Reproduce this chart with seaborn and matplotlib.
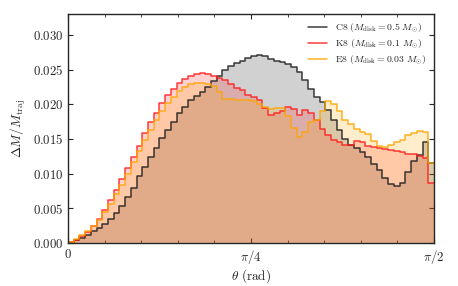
import numpy as np
import pandas as pd
import matplotlib
matplotlib.use("Agg")
import matplotlib.pyplot as plt
from matplotlib.lines import Line2D
from matplotlib.ticker import MultipleLocator, FixedLocator
import seaborn as sns

sns.set_style("ticks")
plt.rcParams["mathtext.fontset"] = "cm"
plt.rcParams["font.family"] = ["DejaVu Serif"]

n_bins = 64
theta_max = np.pi / 2

c8 = [0.0002, 0.0004, 0.0008, 0.0012, 0.0017, 0.0022, 0.0028, 0.0035, 0.0044, 0.0054,
      0.0066, 0.0080, 0.0096, 0.0110, 0.0124, 0.0137, 0.0151, 0.0163, 0.0175, 0.0187,
      0.0196, 0.0206, 0.0212, 0.0218, 0.0225, 0.0233, 0.0240, 0.0249, 0.0255, 0.0259,
      0.0262, 0.0266, 0.0270, 0.0271, 0.0269, 0.0265, 0.0263, 0.0261, 0.0258, 0.0253,
      0.0246, 0.0235, 0.0222, 0.0210, 0.0203, 0.0192, 0.0178, 0.0163, 0.0150, 0.0142,
      0.0137, 0.0131, 0.0124, 0.0114, 0.0105, 0.0094, 0.0085, 0.0082, 0.0086, 0.0103,
      0.0118, 0.0127, 0.0146, 0.0115]

k8 = [0.0002, 0.0005, 0.0010, 0.0016, 0.0024, 0.0034, 0.0048, 0.0062, 0.0077, 0.0093,
      0.0108, 0.0124, 0.0140, 0.0158, 0.0174, 0.0188, 0.0202, 0.0213, 0.0222, 0.0230,
      0.0236, 0.0240, 0.0244, 0.0245, 0.0243, 0.0241, 0.0238, 0.0235, 0.0229, 0.0223,
      0.0221, 0.0214, 0.0210, 0.0206, 0.0195, 0.0184, 0.0187, 0.0190, 0.0196, 0.0193,
      0.0184, 0.0192, 0.0188, 0.0177, 0.0164, 0.0155, 0.0149, 0.0145, 0.0141, 0.0141,
      0.0147, 0.0145, 0.0140, 0.0138, 0.0137, 0.0136, 0.0134, 0.0132, 0.0131, 0.0129,
      0.0128, 0.0126, 0.0122, 0.0086]

e8 = [0.0002, 0.0006, 0.0011, 0.0017, 0.0024, 0.0033, 0.0045, 0.0057, 0.0071, 0.0084,
      0.0100, 0.0117, 0.0132, 0.0148, 0.0163, 0.0177, 0.0190, 0.0202, 0.0210, 0.0219,
      0.0225, 0.0229, 0.0230, 0.0231, 0.0229, 0.0226, 0.0218, 0.0208, 0.0207, 0.0206,
      0.0206, 0.0206, 0.0205, 0.0201, 0.0196, 0.0193, 0.0194, 0.0195, 0.0183, 0.0166,
      0.0153, 0.0160, 0.0174, 0.0177, 0.0190, 0.0205, 0.0200, 0.0190, 0.0178, 0.0171,
      0.0164, 0.0160, 0.0157, 0.0147, 0.0140, 0.0139, 0.0142, 0.0146, 0.0148, 0.0155,
      0.0158, 0.0162, 0.0160, 0.0115]

labels = [r"$\mathrm{C8}\ (M_{\rm disk} = 0.5\ M_{\odot})$",
          r"$\mathrm{K8}\ (M_{\rm disk} = 0.1\ M_{\odot})$",
          r"$\mathrm{E8}\ (M_{\rm disk} = 0.03\ M_{\odot})$"]
colors = ["#1a1a1a", "#ff1a1a", "#ffa500"]
series = [c8, k8, e8]

edges = np.linspace(0, theta_max, n_bins + 1)
centers = 0.5 * (edges[:-1] + edges[1:])

fig = plt.figure(figsize=(4.58, 2.86), dpi=100)
ax = fig.add_axes([0.1485, 0.150, 0.799, 0.801])

for vals, col in zip(series, colors):
    df = pd.DataFrame({"theta": centers, "w": vals})
    sns.histplot(data=df, x="theta", weights="w", bins=n_bins, binrange=(0, theta_max),
                 element="step", fill=True, alpha=0.2, color=col, linewidth=0, ax=ax)
for vals, col in zip(series, colors):
    df = pd.DataFrame({"theta": centers, "w": vals})
    sns.histplot(data=df, x="theta", weights="w", bins=n_bins, binrange=(0, theta_max),
                 element="step", fill=False, color=col, linewidth=1.1, alpha=0.85, ax=ax)

ax.set_xlim(0, theta_max)
ax.set_ylim(0, 0.033)
ax.xaxis.set_major_locator(FixedLocator([0, np.pi / 4, np.pi / 2]))
ax.set_xticklabels([r"$0$", r"$\pi/4$", r"$\pi/2$"])
ax.xaxis.set_minor_locator(MultipleLocator(np.pi / 20))
yt = [0.0, 0.005, 0.010, 0.015, 0.020, 0.025, 0.030]
ax.set_yticks(yt)
ax.set_yticklabels([rf"${v:.3f}$" for v in yt])
ax.tick_params(which="both", direction="in", top=True, right=True, labelsize=9.2)
ax.tick_params(which="major", length=3.5, width=0.8)
ax.tick_params(which="minor", length=2, width=0.6)
for s in ax.spines.values():
    s.set_linewidth(1.0)

ax.set_xlabel(r"$\theta\ (\mathrm{rad})$", fontsize=9.5, labelpad=1)
ax.set_ylabel(r"$\Delta M/M_{\rm traj}$", fontsize=9.5, labelpad=3)

handles = [Line2D([], [], color=c, lw=1.1, alpha=0.85) for c in colors]
ax.legend(handles, labels, loc="upper right", frameon=False, fontsize=7,
          handlelength=2.0, borderaxespad=0.4, labelspacing=0.3)

fig.savefig("out.png", dpi=100)
